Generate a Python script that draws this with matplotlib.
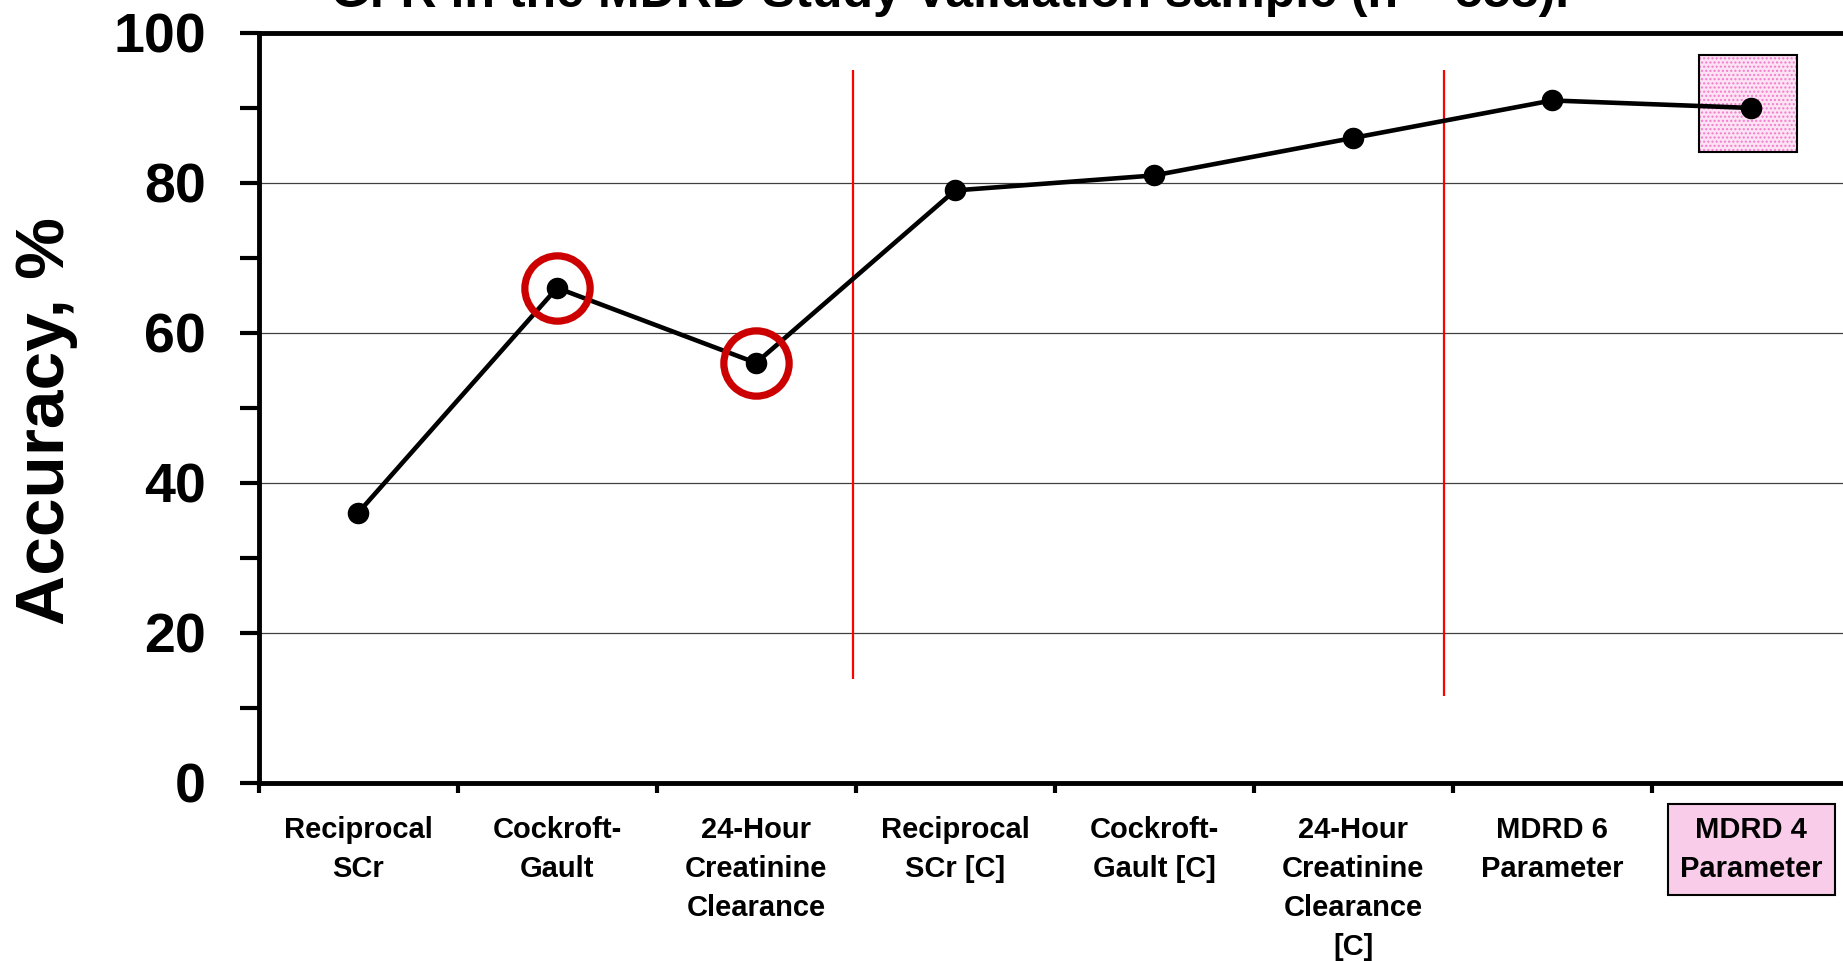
import matplotlib
matplotlib.use("Agg")
import matplotlib.pyplot as plt
from matplotlib.patches import Rectangle
import numpy as np

# Equation / method names shown along the x axis
categories = [
    "Reciprocal\nSCr",
    "Cockroft-\nGault",
    "24-Hour\nCreatinine\nClearance",
    "Reciprocal\nSCr [C]",
    "Cockroft-\nGault [C]",
    "24-Hour\nCreatinine\nClearance\n[C]",
    "MDRD 6\nParameter",
    "MDRD 4\nParameter",
]
# Accuracy (% of estimates within 30% of measured GFR)
accuracy = [36, 66, 56, 79, 81, 86, 91, 90]
# Methods flagged with a red ring
flagged = [1, 2]
# Highlighted method
highlight = 7

y_major = [0, 20, 40, 60, 80, 100]
y_minor = [10, 30, 50, 70, 90]

plt.rcParams["font.family"] = ["Liberation Sans", "DejaVu Sans"]
plt.rcParams["font.weight"] = "bold"

fig = plt.figure(figsize=(18.43, 9.61), dpi=100)
ax = fig.add_axes([0.1403, 0.1854, 0.8638, 0.7803])

x = np.arange(len(categories))

ax.set_xlim(-0.5, len(categories) - 0.5)
ax.set_ylim(0, 100)

# horizontal gridlines
ax.set_yticks(y_major)
ax.set_yticks(y_minor, minor=True)
ax.yaxis.grid(True, which="major", color="#404040", lw=0.9, zorder=0)
ax.set_axisbelow(True)

# group separators
ax.vlines(2.488, 13.9, 95.0, color="#ff0000", lw=1.6, zorder=1)
ax.vlines(5.459, 11.6, 95.0, color="#ff0000", lw=1.6, zorder=1)

# highlight square behind the last point: dotted pink fill plus black frame
ax.add_patch(Rectangle((highlight - 0.26, 84.1), 0.49, 13.0,
                       facecolor="#fde3f4", edgecolor="#f27ccc", hatch="....",
                       lw=0, zorder=2))
ax.add_patch(Rectangle((highlight - 0.26, 84.1), 0.49, 13.0,
                       facecolor="none", edgecolor="black", lw=1.5, zorder=2))

ax.plot(x, accuracy, color="black", lw=3.3, marker="o", ms=14.5,
        mfc="black", mec="black", zorder=4, solid_capstyle="round")

ax.plot([x[i] for i in flagged], [accuracy[i] for i in flagged], ls="none",
        marker="o", ms=47, mfc="none", mec="#cc0000", mew=5.2, zorder=5)

# spines
for side in ("left", "top", "bottom"):
    ax.spines[side].set_linewidth(3.5)
    ax.spines[side].set_color("black")
ax.spines["right"].set_visible(False)

# y ticks
ax.set_yticklabels([str(v) for v in y_major])
ax.tick_params(axis="y", which="both", direction="out", length=14, width=3,
               color="black", pad=24)
ax.tick_params(axis="y", which="major", labelsize=40)

# x ticks: marks at group boundaries, labels at centres
ax.set_xticks(x, categories, fontsize=21, fontweight="bold", linespacing=1.5)
ax.set_xticks(np.arange(-0.5, len(categories) + 0.5, 1.0), minor=True)
ax.tick_params(axis="x", which="major", length=0, pad=24)
ax.tick_params(axis="x", which="minor", direction="out", length=7, width=3,
               color="black")

lbl = ax.get_xticklabels()[highlight]
lbl.set_bbox(dict(boxstyle="square,pad=0.42", facecolor="#f9cdea",
                  edgecolor="black", lw=1.5))

ax.set_ylabel("Accuracy, %", fontsize=50, fontweight="bold")
ax.yaxis.set_label_coords(-0.1335, 0.4827)
ax.yaxis.label.set_va("center")

fig.text(0.5155, 0.9927, "GFR in the MDRD Study Validation sample (n = 558).",
         ha="center", va="baseline", fontsize=36, fontweight="bold")

fig.savefig("out.png", dpi=100)
